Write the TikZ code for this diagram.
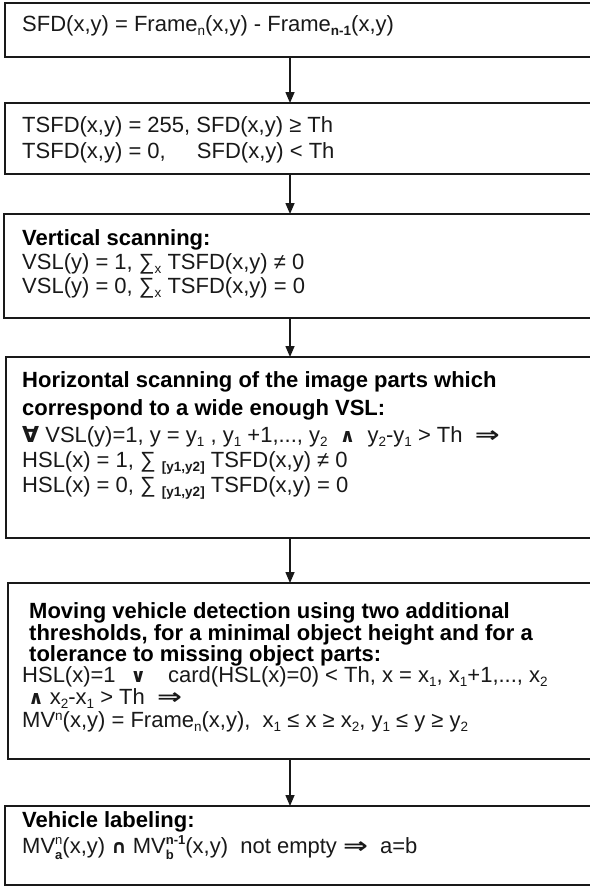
\documentclass[tikz,border=0pt]{standalone}
\usepackage{graphicx}
\usepackage{fontspec}
\setmainfont{Liberation Sans}
\newfontfamily\symf{DejaVu Sans}
\usetikzlibrary{arrows.meta}
\newcommand\mysub[1]{\raisebox{-0.2em}{\fontsize{13.5bp}{13.5bp}\selectfont #1}}
\newcommand\mysup[1]{\raisebox{0.3em}{\fontsize{13.5bp}{13.5bp}\selectfont #1}}
\newcommand\mysubsup[2]{\rlap{\raisebox{-0.3em}{\fontsize{13bp}{13bp}\selectfont #1}}\raisebox{0.4em}{\fontsize{13bp}{13bp}\selectfont #2}}
\newcommand\sym[1]{{\symf\bfseries #1}}
\newcommand\smsym[1]{{\fontsize{19bp}{19bp}\symf\bfseries #1}}
\newcommand\implsym{{\symf\bfseries\scalebox{1.35}[1]{⇒}}}
\tikzset{
  box/.style={draw=black!90, line width=1.7bp, inner sep=0pt, outer sep=0pt, anchor=north west, minimum width=594bp},
  txt/.style={anchor=base west, inner sep=0pt, text=black!90, font=\fontsize{22bp}{24bp}\selectfont},
  hd/.style={anchor=base west, inner sep=0pt, text=black, font=\fontsize{22bp}{24bp}\selectfont\bfseries},
  arr/.style={draw=black!90, line width=1.5bp, -{Triangle[length=11bp,width=9bp]}}
}
\begin{document}
\begin{tikzpicture}[x=1bp,y=-1bp]
\useasboundingbox (0,0) rectangle (590,888);
\clip (0,0) rectangle (590,888);
\fill[white] (0,0) rectangle (590,888);
% boxes
\node[box, minimum height=54bp]  (b1) at (5,3) {};
\node[box, minimum height=71bp]  (b2) at (5,103) {};
\node[box, minimum height=104bp] (b3) at (4,214) {};
\node[box, minimum height=181bp] (b4) at (6,357) {};
\node[box, minimum height=176bp] (b5) at (8,583) {};
\node[box, minimum height=79bp]  (b6) at (5,806) {};
% connectors
\coordinate (ax) at (290,0);
\draw[arr] (b1.south -| ax) -- (b2.north -| ax);
\draw[arr] (b2.south -| ax) -- (b3.north -| ax);
\draw[arr] (b3.south -| ax) -- (b4.north -| ax);
\draw[arr] (b4.south -| ax) -- (b5.north -| ax);
\draw[arr] (b5.south -| ax) -- (b6.north -| ax);
% box 1
\node[txt] (t1) at (22,31) {SFD(x,y) = Frame\mysub{n}(x,y) - Frame\mysub{\bfseries n-1}(x,y)};
% box 2
\node[txt] (t2a) at (22,132) {TSFD(x,y) = 255, SFD(x,y) ≥ Th};
\node[txt] (t2b) at (22,158) {TSFD(x,y) = 0,\hspace*{25bp} SFD(x,y) < Th};
% box 3
\node[hd]  (t3a) at (22,245) {Vertical scanning:};
\node[txt] (t3b) at (22,269) {VSL(y) = 1, ∑\mysub{x} TSFD(x,y) ≠ 0};
\node[txt] (t3c) at (22,293) {VSL(y) = 0, ∑\mysub{x} TSFD(x,y) = 0};
% box 4
\node[hd]  (t4a) at (22,387) {Horizontal scanning of the image parts which};
\node[hd]  (t4b) at (22,415) {correspond to a wide enough VSL:};
\node[txt] (t4c) at (22,442) {\sym{∀} VSL(y)=1, y = y\mysub{1} , y\mysub{1} +1,..., y\mysub{2} \ \smsym{∧} \ y\mysub{2}-y\mysub{1} > Th \ \implsym};
\node[txt] (t4d) at (22,467) {HSL(x) = 1, ∑ \mysub{\bfseries [y1,y2]} TSFD(x,y) ≠ 0};
\node[txt] (t4e) at (22,492) {HSL(x) = 0, ∑ \mysub{\bfseries [y1,y2]} TSFD(x,y) = 0};
% box 5
\node[hd]  (t5a) at (29,618) {Moving vehicle detection using two additional};
\node[hd]  (t5b) at (29,640) {thresholds, for a minimal object height and for a};
\node[hd]  (t5c) at (29,661) {tolerance to missing object parts:};
\node[txt] (t5d) at (22,682) {HSL(x)=1\hspace*{15bp}\smsym{∨}\hspace*{22bp}card(HSL(x)=0) < Th, x = x\mysub{1}, x\mysub{1}+1,..., x\mysub{2}};
\node[txt] (t5e) at (22,704) {\ \smsym{∧} x\mysub{2}-x\mysub{1} > Th \ \implsym};
\node[txt] (t5f) at (22,727) {MV\raisebox{0.28em}{\fontsize{13.5bp}{13.5bp}\selectfont n}(x,y) = Frame\mysub{n}(x,y), \ x\mysub{1} ≤ x ≥ x\mysub{2}, y\mysub{1} ≤ y ≥ y\mysub{2}};
% box 6
\node[hd]  (t6a) at (22,827) {Vehicle labeling:};
\node[txt] (t6b) at (22,853) {MV\mysubsup{\bfseries a}{n}(x,y) \smsym{∩} MV\mysubsup{\bfseries b}{\bfseries n-1}(x,y) \ not empty \implsym\ \ a=b};
\end{tikzpicture}
\end{document}
